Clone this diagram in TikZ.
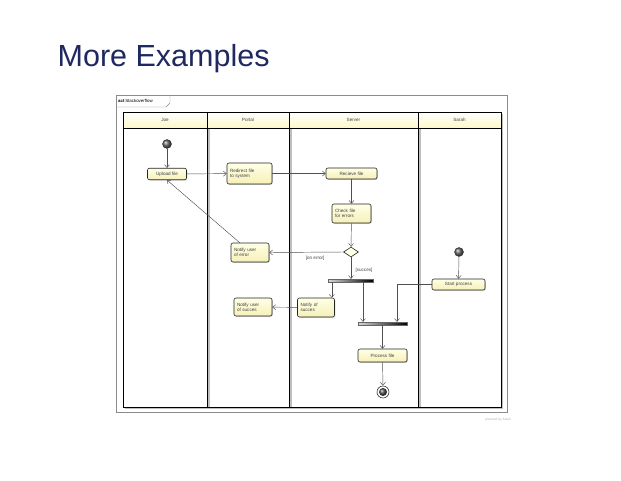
\documentclass[tikz,border=0pt]{standalone}
\usepackage{fontspec}
\setmainfont{Liberation Sans}
\usetikzlibrary{arrows.meta,shadows,shapes.geometric}
\definecolor{titleblue}{HTML}{1F2860}
\definecolor{noteyellow}{HTML}{FFFFE6}
\definecolor{noteyellowb}{HTML}{F6F0B8}
\definecolor{headyellow}{HTML}{FDF8C8}
\definecolor{flowgray}{HTML}{505050}
\begin{document}
\begin{tikzpicture}[x=1pt,y=-1pt,
  lbl/.style={font=\fontsize{4.6}{5.2}\selectfont, text=black!75},
  action/.style={draw=black!85, line width=0.6pt, rounded corners=2pt,
    top color=noteyellow, bottom color=noteyellowb,
    drop shadow={shadow xshift=0.8pt, shadow yshift=-0.8pt, opacity=0.35},
    lbl, align=center, inner sep=1.5pt},
  twoline/.style={action, align=left, text width=#1, inner xsep=3pt},
  flow/.style={draw=flowgray, line width=0.45pt, -{Straight Barb[length=3pt,width=5pt]}},
  startnode/.style={circle, minimum size=9pt, inner sep=0pt, draw=black!80,
    ball color=black!60},
  forkbar/.style={minimum height=3pt, inner sep=0pt, draw=black!60, line width=0.3pt,
    left color=black!15, right color=black},
  lane/.style={draw=black, line width=0.9pt},
  laneshadow/.style={draw=black!25, line width=1.2pt},
  header/.style={lbl, anchor=center}
]
\useasboundingbox (0,0) rectangle (621,480);
\fill[white] (0,0) rectangle (621,480);

% slide title
\node[anchor=base west, inner sep=0pt, text=titleblue,
  font=\fontsize{30.5}{34}\selectfont] (title) at (57.5,66) {More Examples};

% diagram frame with its name tab
\draw[black!45, line width=0.5pt, fill=white] (116,95) rectangle (507,412);
\draw[black!45, line width=0.4pt] (116,107) -- (166,107) -- (170,103) -- (170,95);
\node[anchor=west, inner sep=0pt, font=\fontsize{4.4}{5}\selectfont] (frametag) at (118,101)
  {\textbf{act}\,Stackoverflow};

% swimlane headers
\shade[top color=white, bottom color=headyellow] (123,112) rectangle (501,128);

% swimlane shadows
\draw[laneshadow] (125,408.5) -- (502.5,408.5) -- (502.5,114);
\foreach \x in {209,291,420} \draw[laneshadow] (\x,129) -- (\x,408);

% swimlane lines
\draw[lane] (123,112) rectangle (501,407);
\draw[lane] (123,128) -- (501,128);
\foreach \x in {207,289,418} \draw[lane] (\x,112) -- (\x,407);

\node[header] (hjoe) at (165,120) {Joe};
\node[header] (hportal) at (248,120) {Portal};
\node[header] (hserver) at (353.5,120) {Server};
\node[header] (hsarah) at (459.5,120) {Sarah};

% actions
\node[startnode] (init1) at (167,144) {};
\node[action, minimum width=39pt, minimum height=11.5pt] (upload) at (167,174) {Upload file};
\node[twoline=39pt, minimum height=21pt] (redirect) at (249.5,173.5) {Redirect file\\to system};
\node[action, minimum width=51pt, minimum height=11pt] (recieve) at (351.5,173.5) {Recieve file};
\node[twoline=33pt, minimum height=19pt] (check) at (351.5,213.5) {Check file\\for errors};
\node[diamond, draw=black!85, line width=0.6pt, fill=noteyellow, inner sep=0pt,
  minimum width=15pt, minimum height=10pt] (decide) at (351,252) {};
\node[twoline=32pt, minimum height=19pt] (notifyerr) at (250,252.5) {Notify user\\of error};
\node[forkbar, minimum width=45pt] (fork) at (350.5,280.5) {};
\node[twoline=31pt, minimum height=19pt] (notifysrv) at (316,307.5) {Notify of\\succes};
\node[twoline=32pt, minimum height=18pt] (notifyusr) at (253,307) {Notify user\\of succes};
\node[startnode] (init2) at (459,252) {};
\node[action, minimum width=53pt, minimum height=11pt] (startp) at (458.5,284.5) {Start process};
\node[forkbar, minimum width=49pt] (join) at (382.5,323.5) {};
\node[action, minimum width=49pt, minimum height=13pt] (process) at (382.5,355.5) {Process file};
\node[circle, minimum size=12pt, inner sep=0pt, draw=black!80, line width=0.6pt, fill=white] (final) at (383,392) {};
\node[circle, minimum size=8pt, inner sep=0pt, ball color=black!70] (finalin) at (383,392) {};

% control flows
\draw[flow] (init1) -- (upload);
\draw[flow] (upload) -- (redirect);
\draw[flow] (redirect) -- (recieve);
\draw[flow] (recieve) -- (check);
\draw[flow] (check) -- (decide);
\draw[flow] (decide.west) -- node[lbl, below, pos=0.38, yshift=-0.5pt] (onerr) {[on error]} (notifyerr.east);
\draw[flow] (notifyerr.north west) ++(9pt,0) coordinate (nerrtop) (nerrtop) -- (upload.south);
\draw[flow] (decide.south) -- node[lbl, right, pos=0.6, xshift=1pt] (succ) {[succes]} (decide.south |- fork.north);
\draw[flow] (fork.south -| notifysrv.north east) ++(-3pt,0) coordinate (f1) (f1) -- (f1 |- notifysrv.north);
\draw[flow] (363,282) coordinate (f2) -- (f2 |- join.north);
\draw[flow] (notifysrv) -- (notifyusr);
\draw[flow] (init2) -- (startp);
\draw[flow] (startp.west) -- (397,284.5) coordinate (sp) -- (sp |- join.north);
\draw[flow] (join) -- (process);
\draw[flow] (process) -- (final);

% tool credit
\node[anchor=east, inner sep=0pt, text=black!30, font=\fontsize{3.2}{4}\selectfont] (credit) at (511,420) {powered by Astah};
\end{tikzpicture}
\end{document}
